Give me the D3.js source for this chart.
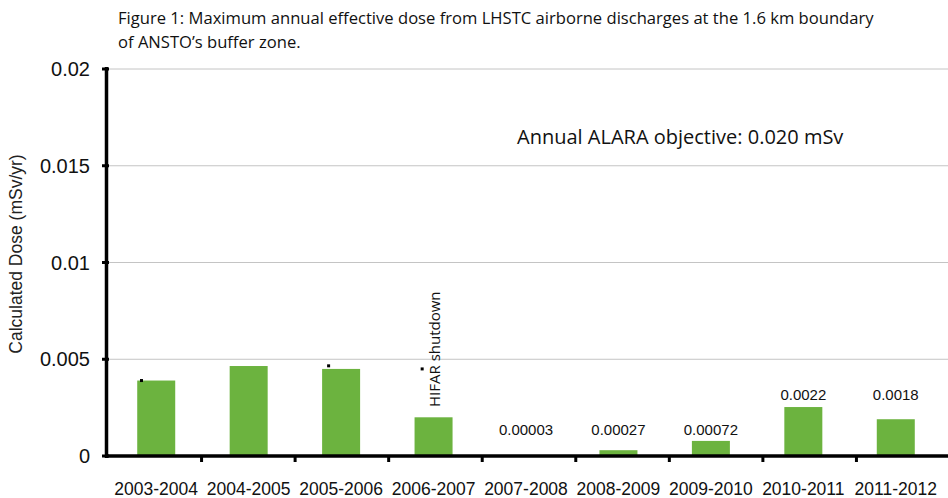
<!DOCTYPE html>
<html>
<head>
<meta charset="utf-8">
<script src="https://cdn.jsdelivr.net/npm/d3@7.9.0/dist/d3.min.js"></script>
<style>
  body { margin: 0; background: #fff; }
  svg { display: block; }
  .num { font-family: "Liberation Sans", Arial, sans-serif; fill: #111; }
  .note { font-family: "Open Sans", sans-serif; fill: #111; }
</style>
</head>
<body>
<svg id="chart" width="948" height="498"></svg>
<script>
const years = ['2003-2004', '2004-2005', '2005-2006', '2006-2007', '2007-2008',
  '2008-2009', '2009-2010', '2010-2011', '2011-2012'];
const doses = [0.0039, 0.00465, 0.0045, 0.002, 0.00003, 0.0003, 0.00078, 0.00253, 0.0019];
const doseLabels = ['', '', '', '', '0.00003', '0.00027', '0.00072', '0.0022', '0.0018'];
const yTicks = [0, 0.005, 0.01, 0.015, 0.02];
const yTickLabels = ['0', '0.005', '0.01', '0.015', '0.02'];
// stray black markers seen in the source figure
const markerYears = ['2003-2004', '2005-2006', '2006-2007'];
const markerValues = [0.0039, 0.00466, 0.0045];

const svg = d3.select('#chart');

const y = d3.scaleLinear().domain([0, 0.02]).range([456, 69]);
const x = d3.scaleBand().domain(years).range([110, 942]);        // bars + labels
const xTick = d3.scaleBand().domain(years).range([108, 950]);    // axis tick marks
const barW = 38;

// title
svg.append('text').attr('class', 'note').attr('x', 118).attr('y', 24)
  .style('font-size', '16.6px')
  .text('Figure 1: Maximum annual effective dose from LHSTC airborne discharges at the 1.6 km boundary');
svg.append('text').attr('class', 'note').attr('x', 118).attr('y', 48)
  .style('font-size', '16.6px')
  .text('of ANSTO\u2019s buffer zone.');

// grid
svg.selectAll('line.grid')
  .data(yTicks.slice(1))
  .join('line')
  .attr('class', 'grid')
  .attr('x1', 107).attr('x2', 948)
  .attr('y1', d => y(d)).attr('y2', d => y(d))
  .attr('stroke', '#c4c4c4').attr('stroke-width', 1);

// bars
svg.selectAll('rect.bar')
  .data(years)
  .join('rect')
  .attr('class', 'bar')
  .attr('x', d => x(d) + x.bandwidth() / 2 - barW / 2)
  .attr('width', barW)
  .attr('y', (d, i) => y(doses[i]))
  .attr('height', (d, i) => y(0) - y(doses[i]))
  .attr('fill', '#6cb33f');

// markers
svg.selectAll('rect.marker')
  .data(markerYears)
  .join('rect')
  .attr('class', 'marker')
  .attr('x', d => xTick(d) + 32)
  .attr('y', (d, i) => y(markerValues[i]) - 1.5)
  .attr('width', 3).attr('height', 3)
  .attr('fill', '#000');

// y axis
svg.append('line').attr('x1', 106.5).attr('x2', 106.5).attr('y1', 67).attr('y2', 458)
  .attr('stroke', '#000').attr('stroke-width', 3.5);
svg.selectAll('line.ytick')
  .data(yTicks)
  .join('line')
  .attr('class', 'ytick')
  .attr('x1', 102).attr('x2', 109)
  .attr('y1', d => y(d)).attr('y2', d => y(d))
  .attr('stroke', '#000').attr('stroke-width', 3);
svg.selectAll('text.ylab')
  .data(yTicks)
  .join('text')
  .attr('class', 'ylab num')
  .attr('x', 90)
  .attr('y', d => y(d) + 7)
  .attr('text-anchor', 'end')
  .style('font-size', '20px')
  .text((d, i) => yTickLabels[i]);

svg.append('text').attr('class', 'num')
  .attr('transform', 'translate(22,254) rotate(-90)')
  .attr('text-anchor', 'middle')
  .style('font-size', '17.5px')
  .style('fill', '#222')
  .text('Calculated Dose (mSv/yr)');

// x axis
svg.append('line').attr('x1', 105).attr('x2', 948).attr('y1', 456).attr('y2', 456)
  .attr('stroke', '#000').attr('stroke-width', 3.5);
svg.selectAll('line.xtick')
  .data(years.slice(1))
  .join('line')
  .attr('class', 'xtick')
  .attr('x1', d => xTick(d)).attr('x2', d => xTick(d))
  .attr('y1', 456).attr('y2', 462)
  .attr('stroke', '#000').attr('stroke-width', 3);
svg.selectAll('text.xlab')
  .data(years)
  .join('text')
  .attr('class', 'xlab num')
  .attr('x', d => x(d) + x.bandwidth() / 2)
  .attr('y', 495)
  .attr('text-anchor', 'middle')
  .style('font-size', '17.5px')
  .text(d => d);

// value labels: small values sit on one row, larger ones on a higher row
const upperRow = y(d3.max(doses.filter((v, i) => doseLabels[i] && v > 0.001))) - 7;
svg.selectAll('text.vlab')
  .data(years.filter((d, i) => doseLabels[i]))
  .join('text')
  .attr('class', 'vlab num')
  .attr('x', d => x(d) + x.bandwidth() / 2)
  .attr('y', d => {
    const v = doses[years.indexOf(d)];
    return v > 0.001 ? upperRow : y(0) - 21;
  })
  .attr('text-anchor', 'middle')
  .style('font-size', '15px')
  .text(d => doseLabels[years.indexOf(d)]);

// annotations
svg.append('text').attr('class', 'note')
  .attr('transform', `translate(${x('2006-2007') + x.bandwidth() / 2 + 6},407) rotate(-90)`)
  .style('font-size', '15px')
  .text('HIFAR shutdown');

svg.append('text').attr('class', 'note')
  .attr('x', 517).attr('y', 144)
  .style('font-size', '20px')
  .text('Annual ALARA objective: 0.020 mSv');
</script>
</body>
</html>
